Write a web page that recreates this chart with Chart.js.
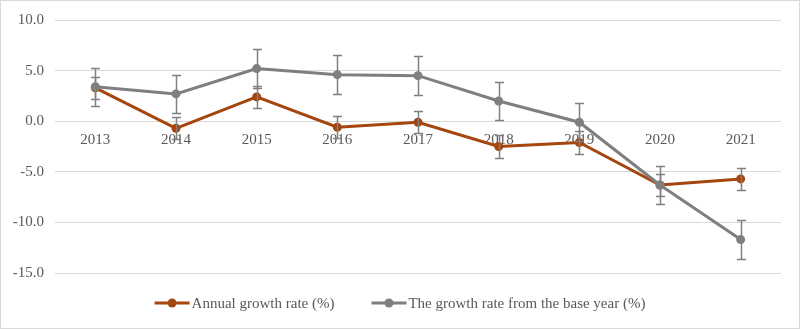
<!DOCTYPE html>
<html>
<head>
<meta charset="utf-8">
<script src="https://cdn.jsdelivr.net/npm/chart.js@4"></script>
<style>
    html, body { margin: 0; padding: 0; background: #fff; }
    .wrap { width: 800px; height: 329px; position: relative; }
</style>
</head>
<body>
<div class="wrap"><canvas id="growthChart" width="800" height="329"></canvas></div>
<script>
// ===== Data =====
const years = ['2013', '2014', '2015', '2016', '2017', '2018', '2019', '2020', '2021'];
const annualRate = [3.3, -0.7, 2.4, -0.6, -0.1, -2.5, -2.1, -6.3, -5.7];
const annualErr = [1.1, 1.1, 1.1, 1.1, 1.1, 1.1, 1.1, 1.1, 1.1];
const baseRate = [3.4, 2.7, 5.2, 4.6, 4.5, 2.0, -0.1, -6.3, -11.7];
const baseErr = [1.9, 1.9, 1.9, 1.9, 1.9, 1.9, 1.9, 1.9, 1.9];
const yTicks = [10, 5, 0, -5, -10, -15];

const colors = {
    orange: '#A5460E',
    gray: '#7F7F7F',
    errBar: '#808080',
    grid: '#D9D9D9',
    text: '#595959'
};
const fontFamily = '"Liberation Serif", "Times New Roman", serif';

// ===== Error bars =====
const errorBars = {
    id: 'errorBars',
    afterDatasetsDraw(chart) {
        const ctx = chart.ctx;
        const yScale = chart.scales.y;
        ctx.save();
        ctx.strokeStyle = colors.errBar;
        ctx.lineWidth = 1.5;
        chart.data.datasets.forEach((ds, i) => {
            const meta = chart.getDatasetMeta(i);
            meta.data.forEach((pt, j) => {
                const v = ds.data[j];
                const e = ds.errors[j];
                const top = Math.round(yScale.getPixelForValue(v + e)) + 0.5;
                const bot = Math.round(yScale.getPixelForValue(v - e)) + 0.5;
                const x = Math.round(pt.x) + 0.5;
                ctx.beginPath();
                ctx.moveTo(x, top); ctx.lineTo(x, bot);
                ctx.moveTo(x - 4.5, top); ctx.lineTo(x + 4.5, top);
                ctx.moveTo(x - 4.5, bot); ctx.lineTo(x + 4.5, bot);
                ctx.stroke();
            });
        });
        ctx.restore();
    }
};

// ===== Legend (line + marker, centred under the chart) =====
const bottomLegend = {
    id: 'bottomLegend',
    afterDraw(chart) {
        const ctx = chart.ctx;
        const y = 303;
        const symW = 35, symGap = 2, itemGap = 37;
        ctx.save();
        ctx.font = '15px ' + fontFamily;
        ctx.textBaseline = 'middle';
        const items = chart.data.datasets.map(ds => ({
            label: ds.label,
            color: ds.borderColor,
            w: symW + symGap + ctx.measureText(ds.label).width
        }));
        const total = items.reduce((s, it) => s + it.w, 0) + itemGap * (items.length - 1);
        let x = chart.width / 2 - total / 2;
        items.forEach(it => {
            ctx.strokeStyle = it.color;
            ctx.lineWidth = 3;
            ctx.beginPath();
            ctx.moveTo(x, y); ctx.lineTo(x + symW, y);
            ctx.stroke();
            ctx.fillStyle = it.color;
            ctx.beginPath();
            ctx.arc(x + symW / 2, y, 4.5, 0, Math.PI * 2);
            ctx.fill();
            ctx.fillStyle = colors.text;
            ctx.fillText(it.label, x + symW + symGap, y + 1);
            x += it.w + itemGap;
        });
        ctx.restore();
    }
};

// ===== Outer frame =====
const frame = {
    id: 'frame',
    beforeDraw(chart) {
        const ctx = chart.ctx;
        ctx.save();
        ctx.fillStyle = '#fff';
        ctx.fillRect(0, 0, chart.width, chart.height);
        ctx.strokeStyle = colors.grid;
        ctx.lineWidth = 1;
        ctx.strokeRect(0.5, 0.5, chart.width - 1, chart.height - 1);
        ctx.restore();
    }
};

new Chart(document.getElementById('growthChart'), {
    type: 'line',
    data: {
        labels: years,
        datasets: [
            {
                label: 'Annual growth rate (%)',
                data: annualRate,
                errors: annualErr,
                borderColor: colors.orange,
                backgroundColor: colors.orange,
                borderWidth: 3,
                pointRadius: 4.5,
                pointBorderWidth: 0,
                tension: 0,
                order: 1
            },
            {
                label: 'The growth rate from the base year (%)',
                data: baseRate,
                errors: baseErr,
                borderColor: colors.gray,
                backgroundColor: colors.gray,
                borderWidth: 3,
                pointRadius: 4.5,
                pointBorderWidth: 0,
                tension: 0,
                order: 0
            }
        ]
    },
    options: {
        responsive: false,
        animation: false,
        layout: { padding: { top: 18, right: 19, bottom: 56, left: 0 } },
        scales: {
            x: {
                position: { y: 0 },
                offset: true,
                grid: { display: false, drawTicks: false },
                border: { display: false },
                ticks: {
                    padding: 10,
                    color: colors.text,
                    font: { family: fontFamily, size: 15 },
                    maxRotation: 0
                }
            },
            y: {
                min: -15,
                max: 10,
                afterFit: s => { s.width = 55; },
                afterBuildTicks: s => { s.ticks = yTicks.map(v => ({ value: v })); },
                grid: { color: colors.grid, lineWidth: 1, drawTicks: false },
                border: { display: false },
                ticks: {
                    padding: 11,
                    color: colors.text,
                    font: { family: fontFamily, size: 15 },
                    callback: v => v.toFixed(1)
                }
            }
        },
        plugins: {
            legend: { display: false },
            tooltip: { enabled: false }
        }
    },
    plugins: [frame, errorBars, bottomLegend]
});
</script>
</body>
</html>
